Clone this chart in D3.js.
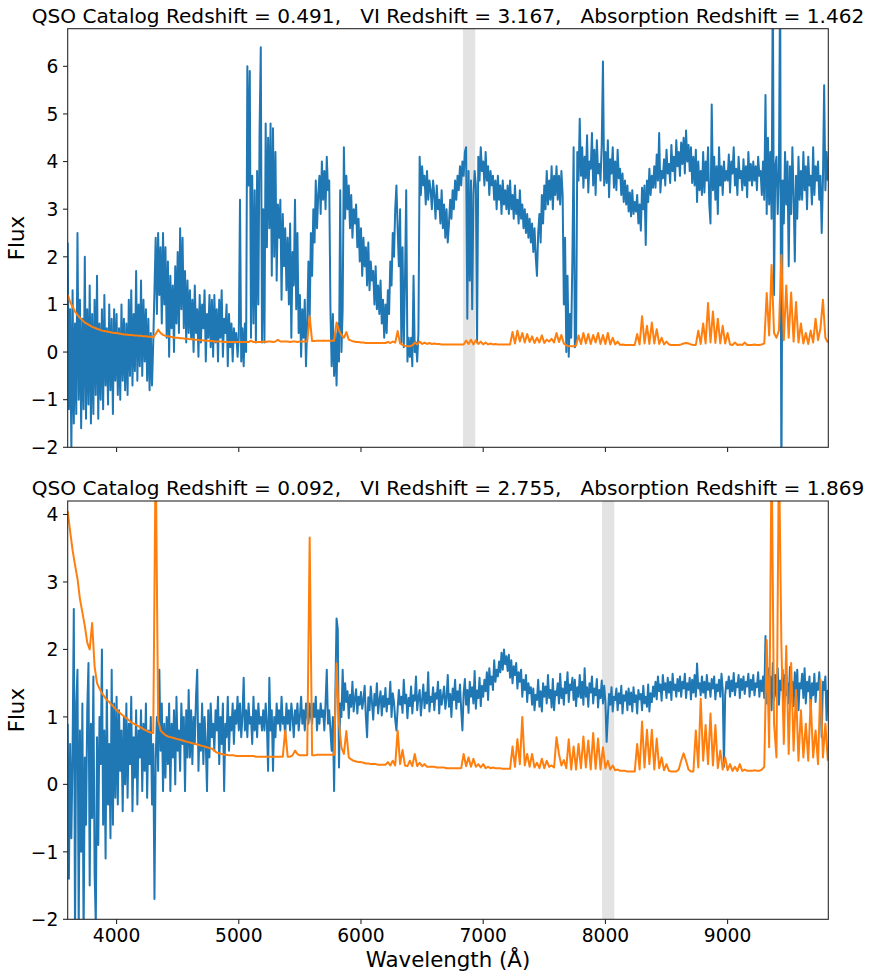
<!DOCTYPE html>
<html>
<head>
<meta charset="utf-8">
<script src="https://cdn.jsdelivr.net/npm/d3@7"></script>
<style>
  html, body { margin: 0; padding: 0; background: #ffffff; }
  svg { display: block; font-family: "DejaVu Sans", sans-serif; }
  text { white-space: pre; }
</style>
</head>
<body>
<svg id="chart" width="869" height="979"></svg>
<script>
// ---------------- DATA ----------------
const wavelengthFlux = d3.range(3600, 9830, 10);  // 3600 .. 9820 Å, flux grid
const wavelengthModel = d3.range(3600, 9840, 20); // 3600 .. 9820 Å, model grid

const titles = [
  "QSO Catalog Redshift = 0.491,   VI Redshift = 3.167,   Absorption Redshift = 1.462",
  "QSO Catalog Redshift = 0.092,   VI Redshift = 2.755,   Absorption Redshift = 1.869"
];
const absorptionZ = [1.462, 1.869];
const mgiiRest = 2796.35;
const bandHalfWidth = 50;

const xTicks = [4000, 5000, 6000, 7000, 8000, 9000];
const yTicksTop = [-2, -1, 0, 1, 2, 3, 4, 5, 6];
const yTicksBottom = [-2, -1, 0, 1, 2, 3, 4];
const yDomains = [[-2, 6.79], [-2, 4.2]];

// panel 1 flux (blue), 10 Å steps, rows of 200 Å
const flux1 = [
  2.3, -1.2, 0.9, -2.1, 1.3, -1.5, 0.6, -1.3, 2.5, -1.0, 1.1, -1.6, 0.7, -1.2, 2.0, -1.4, 0.9, -1.1, 1.4, -1.5,
  0.8, -1.3, 1.1, -0.9, 1.6, -1.4, 0.6, -1.0, 0.9, -1.2, 1.2, -0.7, 0.5, -1.1, 1.0, -0.8, 0.7, -1.3, 0.9, -0.6,
  0.8, -0.9, 0.5, -1.0, 1.0, -0.6, 0.7, -0.8, 0.6, -0.9, 1.1, -0.5, 1.3, -0.7, 0.8, -0.4, 1.7, -0.6, 1.0, -0.3,
  1.5, -0.5, 1.1, -0.2, 0.9, -0.6, 0.7, -0.8, 0.4, -0.7, 0.2, 1.3, 2.4, 0.8, 2.5, 1.2, 2.2, 0.6, 2.5, 1.0,
  2.2, 0.3, 1.9, -0.1, 1.6, 0.5, 1.4, 0.0, 1.8, 0.6, 2.1, 0.4, 2.6, 0.9, 2.4, 0.5, 1.7, 0.2, 1.5, 0.4,
  1.3, 0.3, 1.1, 0.0, 1.4, 0.4, 0.9, -0.1, 1.2, 0.2, 1.0, 0.5, 1.3, -0.2, 0.8, 0.3, 1.2, 0.1, 1.1, -0.1,
  1.2, 0.2, 0.9, -0.2, 1.1, 0.3, 1.3, -0.1, 0.7, 0.4, 1.0, -0.3, 0.8, 0.1, 0.6, -0.2, 0.5, 0.2, 0.4, -0.1,
  0.3, 3.2, -0.2, 0.5, -0.3, 0.6, 0.0, 6.0, 3.5, 5.9, 0.3, 3.7, 0.6, 3.4, 0.2, 3.8, 1.0, 4.6, 6.4, 0.2,
  3.0, 0.2, 4.8, 2.2, 4.5, 2.6, 4.8, 1.6, 4.7, 2.0, 4.2, 1.5, 3.1, 2.4, 3.2, 1.1, 2.9, 1.8, 2.6, 1.3,
  2.4, 1.0, 2.7, 0.3, 2.1, 1.4, 3.2, 0.9, 2.5, 0.4, 1.2, -0.1, 0.9, 0.3, 1.1, -0.3, 0.6, 1.9, 0.7, 2.5,
  1.6, 3.0, 2.3, 3.6, 2.6, 3.3, 3.7, 2.9, 4.0, 3.2, 3.8, 3.0, 4.1, 3.4, 3.6, 0.9, -0.3, 0.8, -0.5, 0.4,
  -0.7, 0.6, -0.2, 3.4, 0.0, 0.9, 4.3, 2.8, 3.7, 3.0, 3.5, 2.6, 3.3, 2.4, 3.0, 2.7, 3.1, 2.2, 2.8, 1.9,
  2.6, 1.6, 2.4, 1.8, 2.2, 1.4, 2.3, 1.3, 1.9, 1.5, 1.7, 1.0, 1.8, 0.9, 1.4, 0.8, 1.5, 0.6, 1.1, 0.3,
  1.0, 0.4, 1.3, 0.8, 1.9, 1.4, 2.5, 2.0, 3.0, 3.5, 2.6, 1.8, 3.0, 0.2, 2.2, 0.1, 1.5, 3.4, -0.2, 0.3,
  -0.1, 0.3, -0.3, 1.6, 0.0, 0.2, -0.2, 0.4, 4.1, 3.3, 3.9, 3.5, 3.7, 3.1, 3.8, 3.2, 3.6, 3.4, 3.0, 3.6,
  3.3, 2.8, 3.5, 3.0, 3.2, 2.7, 3.4, 2.6, 3.1, 2.4, 3.0, 2.3, 2.7, 3.2, 2.8, 3.4, 3.0, 3.6, 3.2, 3.7,
  3.4, 3.9, 3.5, 4.0, 3.7, 4.2, 4.3, 0.7, 3.8, 1.5, 3.6, 0.9, 3.3, 3.8, 3.5, 0.2, 4.1, 3.6, 4.3, 3.8,
  4.0, 3.5, 4.2, 3.6, 3.9, 3.3, 3.8, 3.5, 3.7, 3.2, 3.6, 3.0, 3.7, 3.2, 3.5, 2.9, 3.6, 3.1, 3.4, 3.0,
  3.5, 2.9, 3.6, 3.0, 3.3, 2.8, 3.5, 2.9, 3.2, 2.7, 3.4, 2.8, 3.1, 2.6, 3.0, 2.5, 2.9, 2.4, 2.8, 2.3,
  2.7, 2.1, 2.6, 2.0, 1.6, 2.5, 2.9, 2.3, 3.3, 2.7, 3.5, 3.0, 3.8, 3.1, 3.6, 3.2, 3.9, 3.0, 3.7, 3.3,
  3.9, 3.2, 3.7, 3.1, 3.8, 3.3, 1.0, 2.4, 0.0, 1.6, -0.1, 0.8, 0.3, 2.0, 4.3, 0.1, 0.2, 4.2, 3.6, 4.9,
  3.7, 4.3, 3.45, 4.1, 3.65, 4.55, 3.35, 4.0, 3.85, 4.6, 3.5, 4.25, 3.3, 4.45, 3.75, 3.95, 3.6, 4.35, 6.1, 3.5,
  4.2, 3.55, 4.45, 3.25, 4.05, 3.75, 4.3, 3.45, 4.0, 3.4, 4.25, 3.65, 3.85, 3.3, 3.75, 3.15, 3.6, 3.1, 3.5, 2.95,
  3.35, 2.85, 3.4, 2.9, 3.15, 2.95, 3.3, 2.7, 3.1, 2.55, 3.45, 3.0, 3.5, 2.25, 3.6, 3.15, 3.85, 3.3, 3.7, 3.45,
  3.9, 3.45, 4.15, 3.6, 4.6, 3.35, 3.8, 3.65, 4.05, 3.5, 4.25, 3.75, 3.95, 3.55, 4.35, 3.8, 4.1, 3.6, 4.45, 3.9,
  4.2, 3.7, 4.4, 3.95, 4.5, 3.75, 4.65, 4.0, 4.35, 3.8, 4.3, 3.55, 4.1, 3.5, 4.25, 3.15, 4.0, 3.4, 3.8, 3.3,
  4.2, 3.35, 4.0, 3.6, 4.3, 3.1, 2.7, 5.2, 3.4, 4.1, 3.2, 3.9, 2.9, 4.3, 3.5, 3.9, 3.3, 4.0, 3.6, 3.8,
  3.6, 4.15, 3.35, 4.0, 3.75, 4.3, 3.5, 3.85, 3.3, 4.1, 3.65, 3.8, 3.4, 4.05, 3.5, 3.9, 3.25, 4.2, 3.6, 3.95,
  3.5, 4.0, 3.6, 3.9, 3.4, 4.1, 3.7, 3.8, 3.3, 4.0, 3.2, 5.4, 2.9, 4.5, 3.1, 4.2, 2.8, 8.0, 1.2, 3.9,
  4.1, 2.9, 3.8, 8.0, -3.0, 3.6, 2.7, 4.2, 3.1, 4.0, 1.8, 3.9, 2.9, 4.3, 3.3, 1.9, 3.7, 2.8, 4.1, 3.2,
  3.8, 3.2, 4.2, 3.4, 3.9, 3.0, 4.1, 3.5, 3.7, 3.1, 4.3, 3.3, 3.9, 3.6, 4.0, 3.2, 3.7, 2.5, 3.6, 5.6,
  3.4, 4.2, 3.6
];

// panel 1 model (orange), 20 Å steps, rows of 200 Å
const model1 = [
  1.20, 1.05, 0.95, 0.85, 0.78, 0.72, 0.67, 0.62, 0.59, 0.56,
  0.53, 0.51, 0.49, 0.47, 0.45, 0.44, 0.43, 0.42, 0.41, 0.40,
  0.40, 0.39, 0.38, 0.37, 0.37, 0.36, 0.36, 0.35, 0.35, 0.34,
  0.34, 0.33, 0.33, 0.32, 0.32, 0.31, 0.38, 0.47, 0.40, 0.36,
  0.34, 0.33, 0.32, 0.31, 0.30, 0.30, 0.29, 0.29, 0.28, 0.28,
  0.27, 0.27, 0.26, 0.26, 0.25, 0.25, 0.24, 0.24, 0.23, 0.23,
  0.22, 0.22, 0.22, 0.22, 0.21, 0.21, 0.21, 0.21, 0.21, 0.21,
  0.21, 0.21, 0.21, 0.21, 0.21, 0.24, 0.21, 0.21, 0.21, 0.21,
  0.22, 0.21, 0.22, 0.22, 0.21, 0.22, 0.26, 0.22, 0.22, 0.22,
  0.22, 0.21, 0.22, 0.22, 0.21, 0.22, 0.22, 0.22, 0.22, 0.75,
  0.23, 0.23, 0.24, 0.24, 0.24, 0.24, 0.24, 0.24, 0.24, 0.24,
  0.62, 0.45, 0.36, 0.30, 0.42, 0.26, 0.24, 0.22, 0.21, 0.21,
  0.20, 0.20, 0.19, 0.19, 0.19, 0.19, 0.19, 0.19, 0.19, 0.19,
  0.19, 0.21, 0.19, 0.22, 0.20, 0.44, 0.18, 0.15, 0.13, 0.12,
  0.12, 0.14, 0.20, 0.16, 0.22, 0.17, 0.20, 0.17, 0.19, 0.17,
  0.18, 0.17, 0.17, 0.16, 0.16, 0.16, 0.16, 0.16, 0.16, 0.16,
  0.16, 0.16, 0.16, 0.24, 0.17, 0.26, 0.16, 0.25, 0.17, 0.22,
  0.16, 0.20, 0.16, 0.18, 0.16, 0.17, 0.16, 0.16, 0.16, 0.16,
  0.16, 0.16, 0.42, 0.18, 0.45, 0.22, 0.40, 0.20, 0.38, 0.21,
  0.33, 0.19, 0.30, 0.20, 0.35, 0.19, 0.26, 0.22, 0.28, 0.20,
  0.40, 0.21, 0.36, 0.18, 0.14, 0.12, 0.12, 0.12, 0.14, 0.35,
  0.17, 0.40, 0.18, 0.38, 0.17, 0.36, 0.20, 0.40, 0.17, 0.36,
  0.17, 0.40, 0.16, 0.30, 0.16, 0.22, 0.15, 0.16, 0.15, 0.15,
  0.15, 0.15, 0.15, 0.38, 0.16, 0.75, 0.18, 0.55, 0.17, 0.62,
  0.18, 0.48, 0.17, 0.30, 0.16, 0.22, 0.16, 0.15, 0.15, 0.15,
  0.15, 0.16, 0.18, 0.19, 0.18, 0.16, 0.15, 0.15, 0.45, 0.17,
  0.60, 0.18, 1.03, 0.20, 0.85, 0.19, 0.70, 0.18, 0.55, 0.18,
  0.40, 0.16, 0.15, 0.20, 0.15, 0.16, 0.15, 0.20, 0.15, 0.15,
  0.15, 0.16, 0.15, 0.15, 0.16, 0.18, 1.24, 0.35, 1.83, 0.40,
  0.30, 0.45, 2.04, 0.25, 1.40, 0.30, 1.25, 0.22, 1.05, 0.20,
  0.60, 0.18, 0.40, 0.17, 0.45, 0.20, 0.70, 0.25, 0.50, 1.10,
  0.30, 0.20
];

// panel 2 flux (blue), 10 Å steps, rows of 200 Å
const flux2 = [
  0.9, -1.4, 0.6, -0.8, 0.5, 2.6, -2.3, 1.2, 1.7, -2.2, 0.8, -1.0, 1.2, -2.3, 0.4, -0.6, 1.1, 1.8, -1.5, 0.9,
  -0.5, 1.6, -1.3, -2.1, 0.7, -0.9, 1.0, 0.3, 2.0, -0.6, 0.8, -1.1, 1.4, -0.3, 0.6, -0.8, 1.7, -0.6, 1.2, -0.2,
  1.3, -0.3, 1.1, 0.2, 0.8, -0.4, 1.0, 0.0, 1.2, -0.2, 0.9, 0.3, 1.3, -0.4, 0.7, 0.1, 1.1, -0.3, 0.8, 0.4,
  1.1, -0.1, 0.9, 0.2, 1.2, -0.2, 0.8, 0.3, 1.0, -0.3, 0.6, -1.7, 0.4, 1.0, 0.2, 1.7, 0.5, 1.2, -0.1, 0.9,
  0.1, 1.0, 0.3, 1.2, -0.1, 0.9, 0.4, 1.1, 0.0, 1.3, 0.5, 0.8, 0.2, 1.2, 0.6, 1.0, -0.1, 1.1, 0.4, 1.4,
  0.4, 1.1, 0.3, 1.0, 0.6, 1.3, 1.7, 0.2, 0.9, 0.5, 1.2, 0.3, 1.0, 0.6, -0.1, 1.1, 0.4, 1.2, 0.7, 0.9,
  0.5, 1.1, 0.8, 1.3, 0.3, 1.0, 0.6, 1.2, -0.1, 0.9, 0.7, 1.3, 0.5, 1.0, 0.8, 1.2, 0.6, 1.1, 0.9, 1.3,
  0.8, 1.2, 0.7, 1.0, 1.58, 0.8, 1.1, 0.7, 1.2, 0.9, 1.0, 0.6, 1.3, 0.8, 1.1, 0.7, 1.2, 0.9, 1.0, 0.8,
  1.1, 0.8, 1.2, 0.9, 0.2, 1.58, 0.8, 1.1, 0.2, 1.0, 0.7, 1.2, 0.9, 1.1, 0.8, 1.3, 0.9, 1.0, 0.7, 1.2,
  0.9, 1.1, 0.8, 1.2, 1.0, 0.7, 1.1, 0.9, 1.2, 0.8, 1.0, 1.3, 0.9, 1.1, 0.8, 1.2, 1.0, 0.9, 1.2, 1.0,
  0.9, 1.2, 1.0, 1.3, 0.8, 1.1, 0.9, 1.2, 1.0, 1.1, 0.8, 1.2, 1.7, 0.9, 1.1, 0.8, 0.5, 1.0, -0.1, 1.3,
  2.46, 2.3, 0.25, 1.2, 1.0, 1.7, 1.1, 1.5, 1.22, 1.38, 0.98, 1.33, 1.15, 1.52, 1.08, 1.27, 1.41, 1.05, 1.3, 1.18,
  1.37, 1.12, 1.25, 1.46, 1.0, 0.7, 1.29, 1.1, 1.45, 1.21, 0.96, 1.34, 1.17, 1.5, 1.05, 1.24, 1.38, 1.02, 1.31, 1.15,
  1.43, 1.08, 1.27, 1.19, 1.52, 1.0, 1.35, 1.22, 0.96, 0.8, 1.12, 1.4, 1.18, 1.3, 1.06, 1.55, 1.2, 1.33, 0.98, 1.28,
  1.16, 1.45, 1.05, 1.32, 1.24, 1.6, 1.1, 1.29, 1.4, 1.02, 1.25, 1.48, 1.13, 1.36, 1.2, 1.66, 1.08, 1.3, 1.22, 1.44,
  1.1, 1.35, 1.27, 1.52, 1.05, 1.4, 1.18, 1.3, 1.45, 1.12, 1.28, 1.62, 1.15, 1.34, 1.0, 1.42, 1.25, 1.55, 1.12, 1.38,
  1.22, 1.48, 1.1, 0.8, 1.35, 1.56, 1.18, 1.4, 1.06, 1.52, 1.3, 1.44, 1.2, 1.68, 1.12, 1.39, 1.28, 1.58, 1.16, 1.46,
  1.3, 1.55, 1.38, 1.66, 1.25, 1.72, 1.48, 1.6, 1.4, 1.84, 1.52, 1.7, 1.6, 1.82, 1.66, 1.95, 1.7, 2.0, 1.78, 1.9,
  1.68, 1.92, 1.58, 1.84, 1.5, 1.75, 1.62, 1.8, 1.42, 1.66, 1.52, 1.7, 1.3, 1.55, 1.4, 1.62, 1.22, 1.5, 1.35, 1.44,
  1.18, 1.42, 1.1, 1.33, 1.25, 1.55, 1.15, 1.38, 1.08, 1.5, 1.3, 1.45, 1.2, 1.62, 1.28, 1.4, 1.14, 1.56, 1.1, 1.38,
  1.32, 1.5, 1.2, 1.64, 1.28, 1.42, 1.18, 1.52, 1.35, 1.66, 1.22, 1.48, 1.4, 1.58, 1.25, 1.55, 1.16, 1.44, 1.3, 1.62,
  1.28, 1.52, 1.18, 1.72, 1.3, 1.44, 1.15, 1.5, 1.36, 1.6, 1.2, 1.42, 1.32, 1.56, 1.14, 1.4, 1.28, 1.54, 1.2, 1.46,
  1.22, 0.63, 1.0, 1.34, 1.18, 1.44, 1.08, 1.3, 1.25, 1.42, 1.1, 1.35, 1.2, 1.46, 1.05, 1.32, 1.24, 1.38, 1.1, 1.42,
  1.18, 1.36, 1.08, 1.44, 1.22, 1.32, 1.05, 1.4, 1.26, 1.34, 1.1, 1.46, 1.2, 1.3, 1.15, 1.48, 1.08, 1.35, 1.22, 1.45,
  1.3, 1.52, 1.26, 1.6, 1.38, 1.48, 1.24, 1.62, 1.4, 1.5, 1.28, 1.58, 1.36, 1.52, 1.25, 1.64, 1.4, 1.48, 1.3, 1.56,
  1.38, 1.6, 1.3, 1.52, 1.42, 1.64, 1.28, 1.5, 1.4, 1.58, 1.26, 1.55, 1.36, 1.62, 1.3, 1.79, 1.42, 1.5, 1.32, 1.6,
  1.36, 1.52, 1.28, 1.62, 1.4, 1.5, 1.3, 1.56, 1.42, 1.6, 1.26, 1.48, 1.38, 1.55, 1.3, 1.64, 1.4, 0.26, 1.32, 1.52,
  1.42, 1.6, 1.3, 1.54, 1.38, 1.65, 1.32, 1.5, 1.44, 1.62, 1.28, 1.56, 1.4, 1.6, 1.34, 1.52, 1.45, 1.64, 1.3, 1.55,
  1.4, 1.62, 1.32, 1.5, 1.44, 1.66, 1.3, 1.54, 1.38, 1.6, 1.28, 2.2, 1.2, 1.72, 1.34, 1.6, 1.1, 1.8, 1.24, 1.62,
  1.3, 1.72, 1.18, 1.54, 1.4, 1.7, 1.08, 1.62, 1.32, 1.5, 1.2, 1.74, 1.42, 1.52, 1.16, 1.66, 1.3, 1.7, 1.1, 1.5,
  1.42, 1.64, 1.28, 1.72, 1.2, 1.52, 1.38, 1.6, 1.1, 1.5, 1.32, 1.64, 1.22, 1.5, 1.4, 1.66, 1.3, 0.7, 1.52, 1.4,
  1.6, 0.95, 1.4
];

// panel 2 model (orange), 20 Å steps, rows of 200 Å
const model2 = [
  4.05, 3.75, 3.47, 3.25, 3.05, 2.75, 2.55, 2.35, 2.10, 2.00,
  2.39, 1.75, 1.50, 1.42, 1.35, 1.30, 1.25, 1.22, 1.18, 1.14,
  1.10, 1.07, 1.04, 1.01, 0.98, 0.95, 0.92, 0.90, 0.88, 0.86,
  0.84, 0.82, 0.80, 0.78, 0.77, 0.76, 5.00, 0.95, 0.80, 0.76,
  0.73, 0.71, 0.70, 0.69, 0.68, 0.67, 0.66, 0.65, 0.64, 0.63,
  0.62, 0.61, 0.60, 0.59, 0.58, 0.57, 0.56, 0.55, 0.54, 0.53,
  0.50, 0.47, 0.46, 0.45, 0.44, 0.44, 0.43, 0.43, 0.43, 0.42,
  0.42, 0.42, 0.42, 0.42, 0.42, 0.42, 0.42, 0.41, 0.41, 0.41,
  0.41, 0.41, 0.41, 0.41, 0.41, 0.41, 0.41, 0.41, 0.41, 0.80,
  0.41, 0.41, 0.43, 0.50, 0.45, 0.43, 0.43, 0.43, 0.43, 3.66,
  0.43, 0.43, 0.44, 0.44, 0.44, 0.44, 0.44, 0.44, 0.44, 0.44,
  1.79, 0.90, 0.55, 0.45, 0.79, 0.40, 0.37, 0.35, 0.34, 0.33,
  0.33, 0.32, 0.31, 0.31, 0.30, 0.30, 0.30, 0.29, 0.29, 0.29,
  0.29, 0.33, 0.28, 0.35, 0.28, 0.80, 0.30, 0.51, 0.28, 0.27,
  0.35, 0.27, 0.45, 0.27, 0.32, 0.27, 0.30, 0.26, 0.26, 0.26,
  0.26, 0.25, 0.25, 0.25, 0.25, 0.24, 0.24, 0.24, 0.24, 0.24,
  0.24, 0.24, 0.45, 0.27, 0.40, 0.26, 0.38, 0.26, 0.30, 0.25,
  0.30, 0.24, 0.26, 0.24, 0.25, 0.24, 0.24, 0.24, 0.23, 0.23,
  0.23, 0.23, 0.56, 0.26, 0.67, 0.30, 1.00, 0.28, 0.45, 0.26,
  0.45, 0.25, 0.32, 0.24, 0.38, 0.24, 0.35, 0.26, 0.28, 0.25,
  0.70, 0.45, 0.28, 0.36, 0.24, 0.67, 0.22, 0.56, 0.22, 0.60,
  0.24, 0.71, 0.25, 0.65, 0.22, 0.76, 0.23, 0.68, 0.22, 0.55,
  0.24, 0.35, 0.22, 0.28, 0.21, 0.22, 0.20, 0.20, 0.20, 0.19,
  0.19, 0.19, 0.19, 0.60, 0.22, 0.93, 0.25, 0.81, 0.30, 0.81,
  0.22, 0.68, 0.24, 0.40, 0.21, 0.30, 0.20, 0.19, 0.19, 0.19,
  0.22, 0.35, 0.46, 0.35, 0.22, 0.19, 0.19, 0.80, 0.25, 1.27,
  0.35, 0.88, 0.30, 1.05, 0.28, 0.88, 0.24, 0.50, 0.22, 0.40,
  0.21, 0.30, 0.20, 0.26, 0.20, 0.30, 0.20, 0.22, 0.20, 0.20,
  0.20, 0.21, 0.20, 0.20, 0.22, 0.26, 2.14, 0.55, 5.00, 0.90,
  0.40, 5.00, 2.07, 0.60, 2.05, 0.45, 1.80, 0.50, 1.40, 0.35,
  1.10, 0.40, 0.90, 0.35, 1.25, 0.40, 0.80, 0.30, 1.55, 0.40,
  0.90, 0.35
];

// ---------------- DRAW ----------------
const svg = d3.select("#chart");
const plotLeft = 67.7, plotRight = 828.3;
const panels = [
  { top: 28.7, bottom: 447.3, flux: flux1, model: model1, yTicks: yTicksTop, showX: false },
  { top: 501.0, bottom: 919.3, flux: flux2, model: model2, yTicks: yTicksBottom, showX: true }
];
const BLUE = "#1f77b4", ORANGE = "#ff7f0e";
const TICK = 4.67, PAD = 4.67;

panels.forEach((p, k) => {
  const x = d3.scaleLinear().domain([3600, 9824]).range([plotLeft, plotRight]);
  const y = d3.scaleLinear().domain(yDomains[k]).range([p.bottom, p.top]);
  const g = svg.append("g");

  const clipId = "clip" + k;
  svg.append("clipPath").attr("id", clipId)
    .append("rect").attr("x", plotLeft).attr("y", p.top)
    .attr("width", plotRight - plotLeft).attr("height", p.bottom - p.top);

  const plot = g.append("g").attr("clip-path", `url(#${clipId})`);

  // absorption band (Mg II at the absorption redshift)
  const c = mgiiRest * (1 + absorptionZ[k]);
  plot.append("rect")
    .attr("x", x(c - bandHalfWidth)).attr("y", p.top)
    .attr("width", x(c + bandHalfWidth) - x(c - bandHalfWidth))
    .attr("height", p.bottom - p.top)
    .attr("fill", "#808080").attr("fill-opacity", 0.22);

  const lineOf = (wl, arr) => {
    const n = Math.min(wl.length, arr.length);
    return d3.line().x(i => x(wl[i])).y(i => y(arr[i]))(d3.range(n));
  };

  plot.append("path").attr("d", lineOf(wavelengthFlux, p.flux))
    .attr("fill", "none").attr("stroke", BLUE).attr("stroke-width", 2)
    .attr("stroke-linejoin", "round");
  plot.append("path").attr("d", lineOf(wavelengthModel, p.model))
    .attr("fill", "none").attr("stroke", ORANGE).attr("stroke-width", 2)
    .attr("stroke-linejoin", "round");

  // frame
  g.append("rect").attr("x", plotLeft).attr("y", p.top)
    .attr("width", plotRight - plotLeft).attr("height", p.bottom - p.top)
    .attr("fill", "none").attr("stroke", "#222").attr("stroke-width", 1.07);

  // x ticks
  const xt = g.append("g");
  xTicks.forEach(t => {
    xt.append("line").attr("x1", x(t)).attr("x2", x(t))
      .attr("y1", p.bottom).attr("y2", p.bottom + TICK)
      .attr("stroke", "#222").attr("stroke-width", 1.07);
    if (p.showX) {
      xt.append("text").attr("x", x(t)).attr("y", p.bottom + TICK + PAD + 13.6)
        .attr("text-anchor", "middle").attr("font-size", 18.67).attr("fill", "#000")
        .text(d3.format("d")(t));
    }
  });

  // y ticks
  const yt = g.append("g");
  p.yTicks.forEach(t => {
    yt.append("line").attr("x1", plotLeft - TICK).attr("x2", plotLeft)
      .attr("y1", y(t)).attr("y2", y(t))
      .attr("stroke", "#222").attr("stroke-width", 1.07);
    yt.append("text").attr("x", plotLeft - TICK - PAD).attr("y", y(t) + 6.8)
      .attr("text-anchor", "end").attr("font-size", 18.67).attr("fill", "#000")
      .text(t < 0 ? "\u2212" + Math.abs(t) : String(t));
  });

  // title
  g.append("text").attr("x", (plotLeft + plotRight) / 2).attr("y", p.top - 6)
    .attr("text-anchor", "middle").attr("font-size", 20.1).attr("fill", "#000")
    .text(titles[k]);

  // y label
  g.append("text")
    .attr("transform", `translate(24.3, ${(p.top + p.bottom) / 2}) rotate(-90)`)
    .attr("text-anchor", "middle").attr("font-size", 21.33).attr("fill", "#000")
    .text("Flux");

  if (p.showX) {
    g.append("text").attr("x", (plotLeft + plotRight) / 2).attr("y", 967)
      .attr("text-anchor", "middle").attr("font-size", 21.33).attr("fill", "#000")
      .text("Wavelength (Å)");
  }
});
</script>
</body>
</html>
